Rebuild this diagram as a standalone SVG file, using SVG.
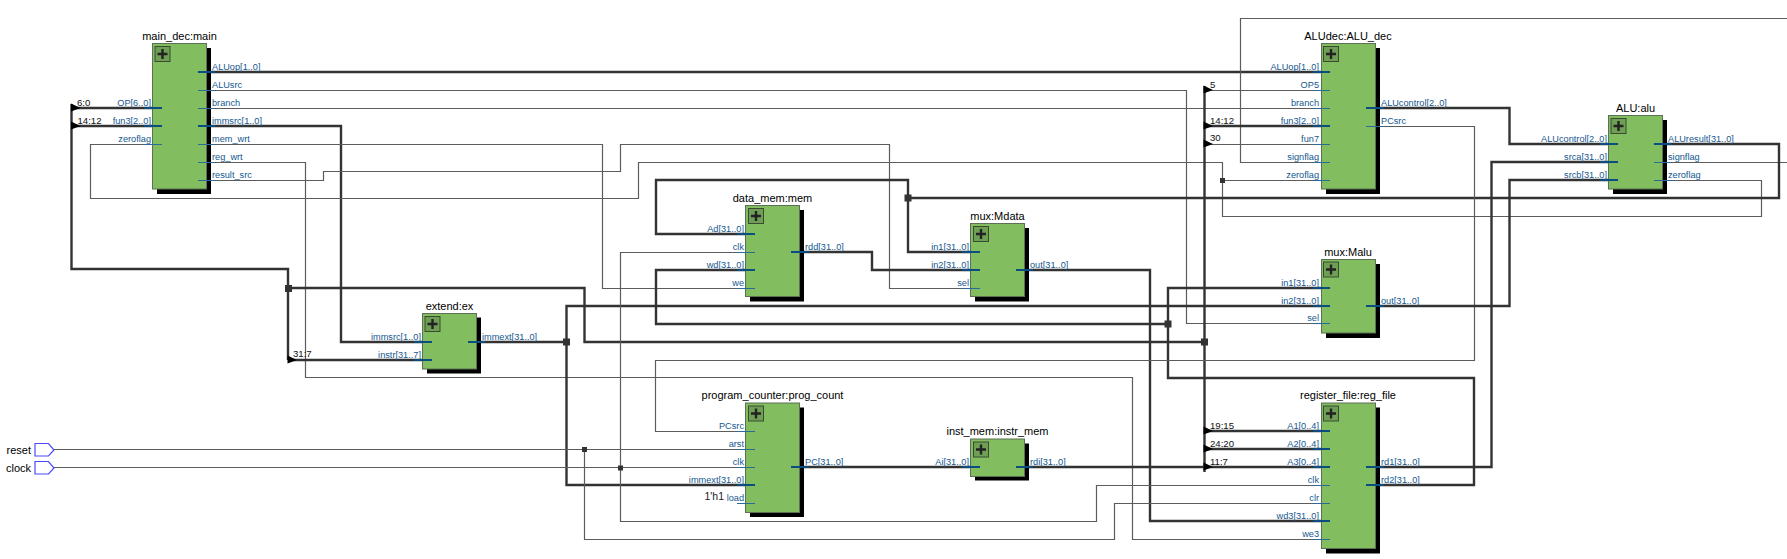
<svg xmlns="http://www.w3.org/2000/svg" width="1787" height="559" viewBox="0 0 1787 559">
<style>
text{font-family:"Liberation Sans",Arial,sans-serif}
.title{font-size:11px;fill:#000;text-anchor:middle}
.pl{font-size:9.2px;fill:#14578f;text-anchor:end}
.pr{font-size:9.2px;fill:#14578f}
.rip{font-size:9.6px;fill:#111}
.th{fill:none;stroke:#333;stroke-width:2.4}
.tn{fill:none;stroke:#5c5c5c;stroke-width:1.2}
.box{fill:#82be5f;stroke:#5d6f55;stroke-width:1}
.sh{fill:#000}
.sb{stroke:#0b4d80;stroke-width:2.2}
.ss{stroke:#2a6b9c;stroke-width:1.1}
.j{fill:#333}
.rt{fill:#000}
.ip{fill:#fff;stroke:#4a4aff;stroke-width:1.2}
</style>
<defs>
<g id="plus"><rect x="0" y="0" width="15" height="15" fill="#6f9f55" stroke="#3a4a35" stroke-width="1"/><path d="M7.5 2.5V12.5M2.5 7.5H12.5" stroke="#222" stroke-width="2.4" fill="none"/></g>
<path id="tri" d="M0 -4.5L9.5 0L0 3.5Z"/>
<path id="pin" d="M0 0H13.5L19 6.5L13.5 12.5H0Z"/>
</defs>
<g id="connectors">
<path class="th" d="M206 72H1321"/>
<path class="tn" d="M206 90.5H1186.5V323.5H1321"/>
<path class="tn" d="M206 108.5H1321"/>
<path class="th" d="M206 126H341V342H423"/>
<path class="tn" d="M206 144.5H602.5V288.5H746"/>
<path class="tn" d="M206 162.5H305.5V377.5H1132.5V539.5H1321"/>
<path class="tn" d="M206 180.5H323.5V171.5H620.5V144.5H889.5V288.5H971"/>
<path class="tn" d="M153 144.5H90.5V198.5H638.5V162.5H1222.5V216.5H1761.5V180.5H1663"/>
<path class="tn" d="M1222.5 180.5H1321"/>
<path class="tn" d="M1663 162.5H1787"/>
<path class="tn" d="M1787 18.5H1240.5V162.5H1321"/>
<path class="th" d="M71.5 104V269H288V360"/>
<path class="th" d="M71.5 108H153M71.5 126H153"/>
<path class="th" d="M288 360H423"/>
<path class="th" d="M288.5 288H584.5V342H1204"/>
<path class="th" d="M477 342H566.5"/>
<path class="th" d="M746 485H566.5V306H1321"/>
<path class="th" d="M1663 144H1779V198H908V180H656V234H746"/>
<path class="th" d="M908 198V252H971"/>
<path class="th" d="M800 252H872V270H971"/>
<path class="th" d="M746 270H656V324H1168"/>
<path class="th" d="M1025 270H1150V521H1321"/>
<path class="th" d="M1321 288H1168V378H1474V485H1375"/>
<path class="th" d="M1204.5 86V472"/>
<path class="th" d="M1025 467H1321"/>
<path class="th" d="M1204.5 431H1321M1204.5 449H1321"/>
<path class="th" d="M1204.5 126H1321"/>
<path class="tn" d="M1204.5 90.5H1321M1204.5 144.5H1321"/>
<path class="th" d="M1375 108H1509.5V144H1609"/>
<path class="tn" d="M1375 126.5H1474.5V360.5H655.5V431.5H746"/>
<path class="th" d="M1375 467H1491.5V162H1609"/>
<path class="th" d="M1375 306H1509.5V180H1609"/>
<path class="th" d="M800 467H971"/>
<path class="tn" d="M54 449.5H746M584.5 449.5V539.5H1114.5V503.5H1321"/>
<path class="tn" d="M54 467.5H746M620.5 467.5V521.5H1096.5V485.5H1321M620.5 467.5V252.5H746"/>
<rect class="j" x="285" y="285" width="7" height="7"/>
<rect class="j" x="563" y="338.5" width="7" height="7"/>
<rect class="j" x="904.5" y="194.5" width="7" height="7"/>
<rect class="j" x="1164.5" y="320.5" width="7" height="7"/>
<rect class="j" x="1201" y="338.5" width="7" height="7"/>
<rect class="j" x="582" y="447" width="5" height="5"/>
<rect class="j" x="618" y="465.5" width="5" height="5"/>
<rect class="j" x="1220" y="178" width="5" height="5"/>
<use class="rt" href="#tri" x="71" y="108"/><use class="rt" href="#tri" x="71" y="126"/>
<use class="rt" href="#tri" x="287.5" y="360"/>
<use class="rt" href="#tri" x="1203.5" y="90"/><use class="rt" href="#tri" x="1203.5" y="126"/><use class="rt" href="#tri" x="1203.5" y="144"/>
<use class="rt" href="#tri" x="1203.5" y="431"/><use class="rt" href="#tri" x="1203.5" y="449"/><use class="rt" href="#tri" x="1203.5" y="467"/>
<text class="rip" x="77" y="106">6:0</text><text class="rip" x="77.5" y="124">14:12</text>
<text class="rip" x="293" y="357">31:7</text>
<text class="rip" x="1210" y="88">5</text><text class="rip" x="1210" y="124">14:12</text><text class="rip" x="1210" y="141">30</text>
<text class="rip" x="1210" y="429">19:15</text><text class="rip" x="1210" y="447">24:20</text><text class="rip" x="1210" y="465">11:7</text>
</g>
<g id="reset"><use href="#pin" class="ip" x="35" y="443.5"/><text x="31" y="454" font-size="11" text-anchor="end" fill="#000">reset</text></g>
<g id="clock"><use href="#pin" class="ip" x="35" y="461.5"/><text x="31" y="472" font-size="11" text-anchor="end" fill="#000">clock</text></g>
<g id="main_dec_main">
<rect class="sh" x="157" y="48" width="54" height="146"/><rect class="box" x="152.5" y="43.5" width="54" height="145.5"/><use href="#plus" x="155" y="46.5"/>
<text class="title" x="179.5" y="39.5">main_dec:main</text>
<path class="sb" d="M144 108H162M144 126H162M198 72H215M198 126H215"/>
<path class="ss" d="M144 144.5H162M198 90.5H215M198 108.5H215M198 144.5H215M198 162.5H215M198 180.5H215"/>
<text class="pl" x="151" y="106">OP[6..0]</text><text class="pl" x="151" y="124">fun3[2..0]</text><text class="pl" x="151" y="142">zeroflag</text>
<text class="pr" x="212" y="70">ALUop[1..0]</text><text class="pr" x="212" y="88">ALUsrc</text><text class="pr" x="212" y="106">branch</text><text class="pr" x="212" y="124">immsrc[1..0]</text><text class="pr" x="212" y="142">mem_wrt</text><text class="pr" x="212" y="160">reg_wrt</text><text class="pr" x="212" y="178">result_src</text>
</g>
<g id="extend_ex">
<rect class="sh" x="427" y="317.5" width="54" height="56"/><rect class="box" x="422.5" y="313.5" width="54" height="55.5"/><use href="#plus" x="425" y="316.5"/>
<text class="title" x="449.5" y="309.5">extend:ex</text>
<path class="sb" d="M414 342H432M414 360H432M468 342H485"/>
<text class="pl" x="421" y="340">immsrc[1..0]</text><text class="pl" x="421" y="358">instr[31..7]</text><text class="pr" x="482" y="340">immext[31..0]</text>
</g>
<g id="data_mem_mem">
<rect class="sh" x="750" y="210" width="54" height="91.5"/><rect class="box" x="745.5" y="205.5" width="54" height="91"/><use href="#plus" x="748.5" y="208.5"/>
<text class="title" x="772.5" y="201.5">data_mem:mem</text>
<path class="sb" d="M737 234H755M737 270H755M791 252H809"/>
<path class="ss" d="M737 252.5H755M737 288.5H755"/>
<text class="pl" x="744" y="232">Ad[31..0]</text><text class="pl" x="744" y="250">clk</text><text class="pl" x="744" y="268">wd[31..0]</text><text class="pl" x="744" y="286">we</text><text class="pr" x="805" y="250">rdd[31..0]</text>
</g>
<g id="mux_Mdata">
<rect class="sh" x="975" y="228" width="54" height="73.5"/><rect class="box" x="970.5" y="223.5" width="54" height="73"/><use href="#plus" x="973.5" y="226.5"/>
<text class="title" x="997.5" y="219.5">mux:Mdata</text>
<path class="sb" d="M962 252H980M962 270H980M1016 270H1033"/>
<path class="ss" d="M962 288.5H980"/>
<text class="pl" x="969" y="250">in1[31..0]</text><text class="pl" x="969" y="268">in2[31..0]</text><text class="pl" x="969" y="286">sel</text><text class="pr" x="1030" y="268">out[31..0]</text>
</g>
<g id="program_counter_prog_count">
<rect class="sh" x="750" y="407.5" width="54" height="109.5"/><rect class="box" x="745.5" y="403" width="54" height="109.5"/><use href="#plus" x="748.5" y="406"/>
<text class="title" x="772.5" y="399">program_counter:prog_count</text>
<path class="sb" d="M737 485H755M791 467H809"/>
<path class="ss" d="M737 431.5H755M737 449.5H755M737 467.5H755M737 503.5H755"/>
<text class="pl" x="744" y="429">PCsrc</text><text class="pl" x="744" y="447">arst</text><text class="pl" x="744" y="465">clk</text><text class="pl" x="744" y="483">immext[31..0]</text><text class="pl" x="744" y="501">load</text><text x="704.5" y="500" font-size="10.5" fill="#222">1'h1</text>
<text class="pr" x="805" y="465">PC[31..0]</text>
</g>
<g id="inst_mem_instr_mem">
<rect class="sh" x="975" y="443.5" width="54" height="37"/><rect class="box" x="970.5" y="439" width="54" height="37.5"/><use href="#plus" x="973.5" y="442"/>
<text class="title" x="997.5" y="435">inst_mem:instr_mem</text>
<path class="sb" d="M962 467H980M1016 467H1033"/>
<text class="pl" x="969" y="465">Ai[31..0]</text><text class="pr" x="1030" y="465">rdi[31..0]</text>
</g>
<g id="ALUdec_ALU_dec">
<rect class="sh" x="1326" y="48" width="54" height="146"/><rect class="box" x="1321.5" y="43.5" width="54" height="145.5"/><use href="#plus" x="1323.5" y="46.5"/>
<text class="title" x="1348" y="39.5">ALUdec:ALU_dec</text>
<path class="sb" d="M1313 72H1330M1313 126H1330M1366 108H1384"/>
<path class="ss" d="M1313 90.5H1330M1313 108.5H1330M1313 144.5H1330M1313 162.5H1330M1313 180.5H1330M1366 126.5H1384"/>
<text class="pl" x="1319" y="70">ALUop[1..0]</text><text class="pl" x="1319" y="88">OP5</text><text class="pl" x="1319" y="106">branch</text><text class="pl" x="1319" y="124">fun3[2..0]</text><text class="pl" x="1319" y="142">fun7</text><text class="pl" x="1319" y="160">signflag</text><text class="pl" x="1319" y="178">zeroflag</text>
<text class="pr" x="1381" y="106">ALUcontrol[2..0]</text><text class="pr" x="1381" y="124">PCsrc</text>
</g>
<g id="ALU_alu">
<rect class="sh" x="1613" y="120" width="54" height="74"/><rect class="box" x="1608.5" y="115.5" width="54" height="73.5"/><use href="#plus" x="1611" y="118.5"/>
<text class="title" x="1635.5" y="111.5">ALU:alu</text>
<path class="sb" d="M1600 144H1618M1600 162H1618M1600 180H1618M1654 144H1672"/>
<path class="ss" d="M1654 162.5H1672M1654 180.5H1672"/>
<text class="pl" x="1607" y="142">ALUcontrol[2..0]</text><text class="pl" x="1607" y="160">srca[31..0]</text><text class="pl" x="1607" y="178">srcb[31..0]</text>
<text class="pr" x="1668" y="142">ALUresult[31..0]</text><text class="pr" x="1668" y="160">signflag</text><text class="pr" x="1668" y="178">zeroflag</text>
</g>
<g id="mux_Malu">
<rect class="sh" x="1326" y="264" width="54" height="74"/><rect class="box" x="1321.5" y="259.5" width="54" height="73.5"/><use href="#plus" x="1323.5" y="262"/>
<text class="title" x="1348" y="255.5">mux:Malu</text>
<path class="sb" d="M1313 288H1330M1313 306H1330M1366 306H1384"/>
<path class="ss" d="M1313 323.5H1330"/>
<text class="pl" x="1319" y="286">in1[31..0]</text><text class="pl" x="1319" y="304">in2[31..0]</text><text class="pl" x="1319" y="321">sel</text><text class="pr" x="1381" y="304">out[31..0]</text>
</g>
<g id="register_file_reg_file">
<rect class="sh" x="1326" y="407.5" width="54" height="146"/><rect class="box" x="1321.5" y="403" width="54" height="145.5"/><use href="#plus" x="1323.5" y="406"/>
<text class="title" x="1348" y="399">register_file:reg_file</text>
<path class="sb" d="M1313 431H1330M1313 449H1330M1313 467H1330M1313 521H1330M1366 467H1384M1366 485H1384"/>
<path class="ss" d="M1313 485.5H1330M1313 503.5H1330M1313 539.5H1330"/>
<text class="pl" x="1319" y="429">A1[0..4]</text><text class="pl" x="1319" y="447">A2[0..4]</text><text class="pl" x="1319" y="465">A3[0..4]</text><text class="pl" x="1319" y="483">clk</text><text class="pl" x="1319" y="501">clr</text><text class="pl" x="1319" y="519">wd3[31..0]</text><text class="pl" x="1319" y="537">we3</text>
<text class="pr" x="1381" y="465">rd1[31..0]</text><text class="pr" x="1381" y="483">rd2[31..0]</text>
</g>
</svg>
